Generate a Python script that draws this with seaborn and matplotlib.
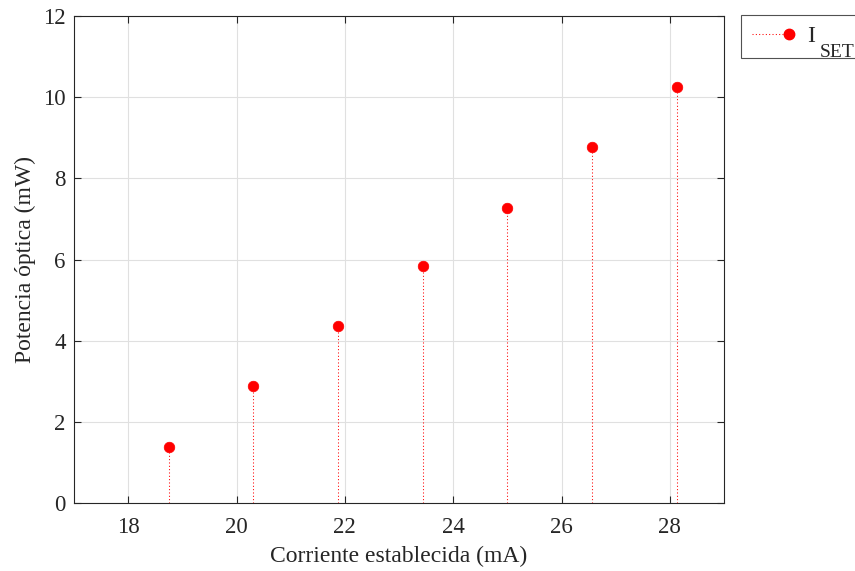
import matplotlib
matplotlib.use("Agg")
import matplotlib.pyplot as plt
from matplotlib.lines import Line2D
from matplotlib.legend_handler import HandlerBase
import seaborn as sns
import pandas as pd

corriente = [18.75, 20.31, 21.88, 23.44, 25.00, 26.56, 28.13]
potencia = [1.39, 2.88, 4.36, 5.84, 7.28, 8.77, 10.25]
x_ticks = [18, 20, 22, 24, 26, 28]
y_ticks = [0, 2, 4, 6, 8, 10, 12]

df = pd.DataFrame({"corriente": corriente, "potencia": potencia})

sns.set_style("white")
plt.rcParams["font.family"] = ["Liberation Serif", "DejaVu Serif"]

dots = (0, (1, 2.2))


class StemHandler(HandlerBase):
    # dotted stem with the marker at its right end, like matlab's stem legend
    def create_artists(self, legend, orig_handle, xdescent, ydescent, width, height,
                       fontsize, trans):
        y = height / 2 - ydescent
        line = Line2D([-xdescent, width - xdescent], [y, y], color="red",
                      linestyle=dots, linewidth=0.75)
        mark = Line2D([width - xdescent], [y], marker="o", markersize=7.5,
                      color="red", linestyle="none")
        line.set_transform(trans)
        mark.set_transform(trans)
        return [line, mark]


fig = plt.figure(figsize=(8.55, 5.71), dpi=100)
ax = fig.add_axes([74 / 855, 1 - 503 / 571, 650 / 855, 487 / 571])

ax.vlines(df["corriente"], 0, df["potencia"], colors="red", linestyles=dots, linewidth=0.75)
sns.scatterplot(data=df, x="corriente", y="potencia", ax=ax, color="red", s=58,
                edgecolor="red", linewidth=0.5, zorder=3)

ax.set_xlim(17, 29)
ax.set_ylim(0, 12)
ax.set_xticks(x_ticks)
ax.set_yticks(y_ticks)
ax.grid(True, color="#e0e0e0", linewidth=0.8)
ax.set_axisbelow(True)
for s in ax.spines.values():
    s.set_color("#262626")
    s.set_linewidth(0.8)
ax.tick_params(direction="in", length=5, width=0.8, colors="#262626", labelsize=16.5,
               pad=6, top=True, right=True, bottom=True, left=True)
ax.tick_params(axis="x", pad=10)
ax.set_xlabel("Corriente establecida (mA)", fontsize=17, color="#262626", labelpad=6)
ax.set_ylabel("Potencia óptica (mW)", fontsize=17, color="#262626", labelpad=5)

h = Line2D([0], [0], color="red")
leg = fig.legend([h], ["I     "], loc="upper left", handler_map={h: StemHandler()},
                 bbox_to_anchor=(741 / 855, 1 - 15 / 571), fontsize=17, frameon=True,
                 fancybox=False, edgecolor="#262626", borderaxespad=0, borderpad=0.45,
                 handlelength=1.6, handletextpad=0.8)
leg.get_frame().set_linewidth(0.8)
for t in leg.get_texts():
    t.set_color("#262626")
fig.text(820 / 855, 1 - 57 / 571, "SET", fontsize=14, color="#262626", va="baseline",
         zorder=10)

fig.savefig("out.png", dpi=100)
